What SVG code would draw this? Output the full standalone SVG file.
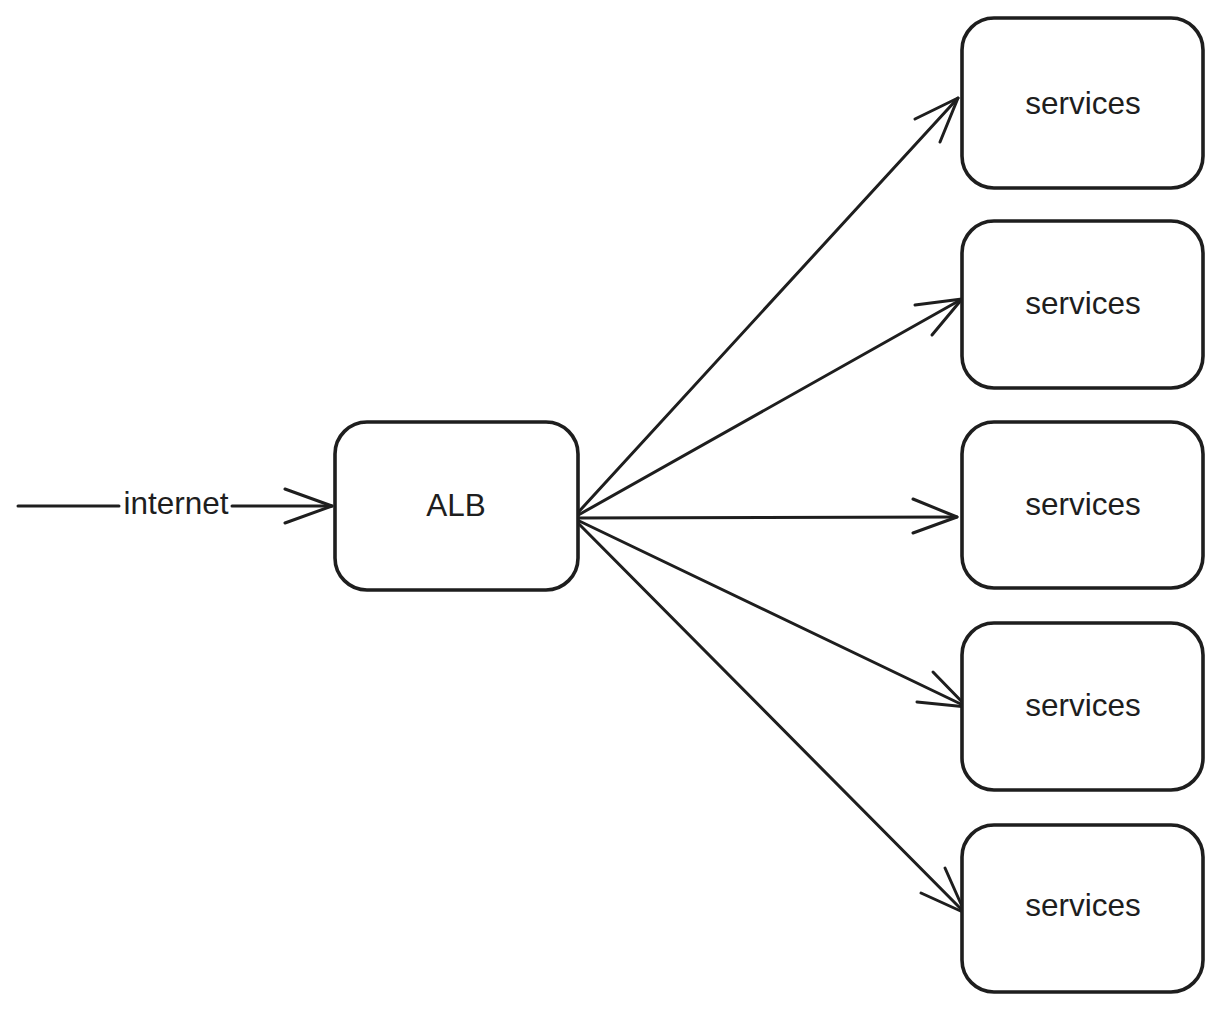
<svg xmlns="http://www.w3.org/2000/svg" width="1224" height="1012" viewBox="0 0 1224 1012">
<style>
.box{fill:#fff;stroke:#1e1e1e;stroke-width:3.6;stroke-linecap:round;stroke-linejoin:round}
.lbl{font-family:"Liberation Sans",Arial,sans-serif;font-size:31.5px;fill:#1e1e1e;text-anchor:middle}
.ln{fill:none;stroke:#1e1e1e;stroke-width:3;stroke-linecap:round;stroke-linejoin:round}
</style>
<rect width="1224" height="1012" fill="#fff"/>
<g id="connectors">
  <path class="ln" d="M18 506 L119 506 M232 506 L332 506"/>
  <path class="ln" d="M285 489 L332 506 L285 523"/>
  <text class="lbl" x="176" y="514">internet</text>

  <path class="ln" d="M573 518 L958 98"/>
  <path class="ln" d="M915 119 L958 98 L940 142"/>

  <path class="ln" d="M573 518 L962 299"/>
  <path class="ln" d="M915 305 L962 299 L932 335"/>

  <path class="ln" d="M573 518 L957 517"/>
  <path class="ln" d="M913 499 L957 517 L913 533"/>

  <path class="ln" d="M573 518 L967 707"/>
  <path class="ln" d="M917 702 L967 707 L933 672"/>

  <path class="ln" d="M573 518 L965 913"/>
  <path class="ln" d="M921 893 L965 913 L945 868"/>
</g>
<g id="alb">
  <rect class="box" x="335" y="422" width="243" height="168" rx="32"/>
  <text class="lbl" x="456" y="516">ALB</text>
</g>
<g id="services1">
  <rect class="box" x="962" y="18" width="241" height="170" rx="32"/>
  <text class="lbl" x="1083" y="114">services</text>
</g>
<g id="services2">
  <rect class="box" x="962" y="221" width="241" height="167" rx="32"/>
  <text class="lbl" x="1083" y="314">services</text>
</g>
<g id="services3">
  <rect class="box" x="962" y="422" width="241" height="166" rx="32"/>
  <text class="lbl" x="1083" y="515">services</text>
</g>
<g id="services4">
  <rect class="box" x="962" y="623" width="241" height="167" rx="32"/>
  <text class="lbl" x="1083" y="716">services</text>
</g>
<g id="services5">
  <rect class="box" x="962" y="825" width="241" height="167" rx="32"/>
  <text class="lbl" x="1083" y="916">services</text>
</g>
</svg>
